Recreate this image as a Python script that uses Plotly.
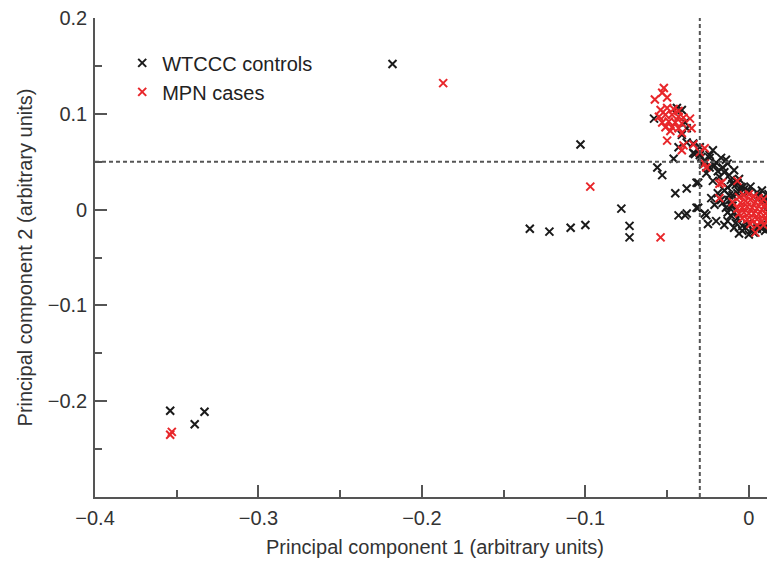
import plotly.graph_objects as go

# WTCCC controls (black)
ctrl_x = [-0.218, -0.103, -0.134, -0.122, -0.109, -0.100, -0.078, -0.073, -0.073,
          -0.354, -0.339, -0.333,
          -0.044, -0.041, -0.058, -0.039, -0.038, -0.041, -0.038, -0.043, -0.034, -0.024,
          -0.046, -0.056, -0.053, -0.045, -0.038, -0.031, -0.043, -0.038, -0.031, -0.026,
          -0.025, -0.020, -0.033, -0.029,
          -0.034, -0.030, -0.024, -0.020, -0.024, -0.016, -0.012, -0.018, -0.010, -0.004,
          -0.022, -0.017, -0.013, -0.009, -0.006, -0.030, -0.026, -0.022, -0.013, -0.012,
          -0.016, -0.010, -0.009, -0.007, -0.001, 0.005, 0.009, 0.013, 0.012, 0.009,
          0.005, -0.001, -0.007, -0.004, 0.012, 0.013, -0.032, -0.023, -0.032, -0.039,
          -0.027, -0.013,
          -0.010, -0.006, 0.000, 0.006, 0.010, 0.013, 0.014, 0.014, 0.011, 0.005,
          -0.002, -0.008, -0.011, -0.011, -0.012, -0.003, 0.002, 0.008,
          -0.015, -0.014, -0.017, -0.008, -0.005, 0.001, 0.008, 0.012, 0.015, 0.015,
          0.010, 0.003, -0.004, -0.009, -0.013, -0.019, -0.021, -0.015, -0.006, 0.0,
          -0.027, -0.021, -0.019, -0.015, -0.011, -0.007, -0.028, -0.014]
ctrl_y = [0.152, 0.068, -0.020, -0.023, -0.019, -0.016, 0.001, -0.017, -0.029,
          -0.210, -0.224, -0.211,
          0.106, 0.104, 0.095, 0.091, 0.085, 0.078, 0.070, 0.065, 0.069, 0.057,
          0.053, 0.044, 0.036, 0.017, 0.022, 0.028, -0.006, -0.004, 0.002, -0.006,
          -0.015, -0.012, 0.058, 0.055,
          0.059, 0.057, 0.054, 0.049, 0.044, 0.044, 0.036, 0.034, 0.027, 0.023,
          0.062, 0.054, 0.048, 0.041, 0.032, 0.065, 0.038, 0.030, 0.023, 0.015,
          0.007, 0.004, -0.003, -0.009, -0.015, -0.017, -0.014, -0.004, 0.004, 0.013,
          0.018, 0.020, 0.017, -0.017, -0.019, 0.013, 0.028, 0.012, 0.002, -0.006,
          -0.004, -0.003,
          0.015, 0.019, 0.019, 0.015, 0.010, 0.004, -0.004, -0.012, -0.018, -0.020,
          -0.019, -0.014, -0.006, 0.004, 0.010, 0.021, -0.021, -0.020,
          0.020, 0.002, 0.010, 0.026, 0.024, 0.024, 0.020, 0.016, 0.008, -0.008,
          -0.022, -0.024, -0.022, -0.019, -0.012, 0.017, 0.005, -0.016, -0.025, -0.026,
          0.051, 0.046, 0.040, 0.039, 0.031, 0.028, 0.047, 0.052]

# MPN cases (red)
case_x = [-0.187, -0.097, -0.354, -0.353, -0.054,
          -0.052, -0.0575, -0.050, -0.053, -0.036, -0.035, -0.041, -0.050, -0.040, -0.027,
          -0.034, -0.041, -0.030, -0.027, -0.0165, -0.007, -0.018, -0.026, -0.018, 0.004,
          -0.054, -0.050, -0.046, -0.043, -0.055, -0.051, -0.047, -0.043, -0.040, -0.053,
          -0.049, -0.045, -0.041, -0.051, -0.047, -0.043, -0.048,
          -0.006, -0.003, 0.000, 0.003, 0.006, -0.005, -0.002, 0.001, 0.004, 0.007,
          0.010, -0.007, -0.004, -0.001, 0.002, 0.005, 0.008, 0.011, 0.013, -0.006,
          -0.003, 0.000, 0.003, 0.006, 0.009, 0.012, -0.004, -0.001, 0.002, 0.005,
          0.008, 0.011, 0.001, 0.005, 0.009, 0.013, -0.010, 0.009]
case_y = [0.132, 0.024, -0.235, -0.232, -0.029,
          0.127, 0.115, 0.117, 0.122, 0.095, 0.085, 0.080, 0.072, 0.067, 0.064,
          0.068, 0.062, 0.060, 0.048, 0.028, 0.030, 0.012, 0.044, 0.027, -0.024,
          0.104, 0.106, 0.105, 0.103, 0.097, 0.099, 0.099, 0.097, 0.096, 0.091,
          0.092, 0.091, 0.090, 0.086, 0.086, 0.085, 0.082,
          0.013, 0.015, 0.016, 0.014, 0.012, 0.007, 0.009, 0.010, 0.008, 0.007,
          0.005, 0.001, 0.002, 0.003, 0.002, 0.001, 0.000, 0.001, -0.002, -0.004,
          -0.003, -0.004, -0.004, -0.005, -0.006, -0.007, -0.009, -0.010, -0.011, -0.010,
          -0.012, -0.012, -0.015, -0.016, -0.016, -0.010, 0.008, 0.011]

cut_x = -0.03
cut_y = 0.05

x_ticks = [-0.4, -0.3, -0.2, -0.1, 0]
x_tick_labels = ["\u22120.4", "\u22120.3", "\u22120.2", "\u22120.1", "0"]
y_ticks = [-0.2, -0.1, 0, 0.1, 0.2]
y_tick_labels = ["\u22120.2", "\u22120.1", "0", "0.1", "0.2"]

fig = go.Figure()
fig.add_trace(go.Scatter(x=ctrl_x, y=ctrl_y, mode="markers", name="WTCCC controls",
                         marker=dict(symbol="x-thin", size=8, color="#1a1a1a",
                                     line=dict(width=2, color="#1a1a1a"))))
fig.add_trace(go.Scatter(x=case_x, y=case_y, mode="markers", name="MPN cases",
                         marker=dict(symbol="x-thin", size=8, color="#e8262a",
                                     line=dict(width=2, color="#e8262a"))))

fig.add_vline(x=cut_x, line=dict(color="#555555", width=2, dash="4px,3px"))
fig.add_hline(y=cut_y, line=dict(color="#555555", width=2, dash="4px,3px"))

font_fam = "Liberation Sans, Arial, sans-serif"
axis_common = dict(showgrid=False, zeroline=False, showline=True, linecolor="#555555",
                   linewidth=1.6, ticks="inside", ticklen=12, tickwidth=1.6,
                   tickcolor="#555555", automargin=False, ticklabeloverflow="allow",
                   minor=dict(dtick=0.05, tick0=0, ticks="inside", ticklen=7,
                              tickwidth=1.6, tickcolor="#555555", showgrid=False),
                   tickfont=dict(size=20, color="#333333"))

fig.update_layout(
    width=767, height=553,
    margin=dict(l=87, r=0, t=10, b=64),
    plot_bgcolor="white", paper_bgcolor="white",
    font=dict(family=font_fam, size=17, color="#333333"),
    showlegend=True,
    legend=dict(x=0.04, y=0.947, xanchor="left", yanchor="top",
                bgcolor="rgba(0,0,0,0)", font=dict(size=20, color="#222222"),
                itemwidth=30, tracegroupgap=0),
    xaxis=dict(range=[-0.4, 0.016], tickvals=x_ticks, ticktext=x_tick_labels,
               ticklabelstandoff=2,
               title=dict(text="Principal component 1 (arbitrary units)", standoff=12),
               **axis_common),
    yaxis=dict(range=[-0.3, 0.2], tickvals=y_ticks, ticktext=y_tick_labels,
               ticklabelstandoff=2,
               title=dict(text="Principal component 2 (arbitrary units)", standoff=10),
               **axis_common),
)

fig.write_html("out.html")
